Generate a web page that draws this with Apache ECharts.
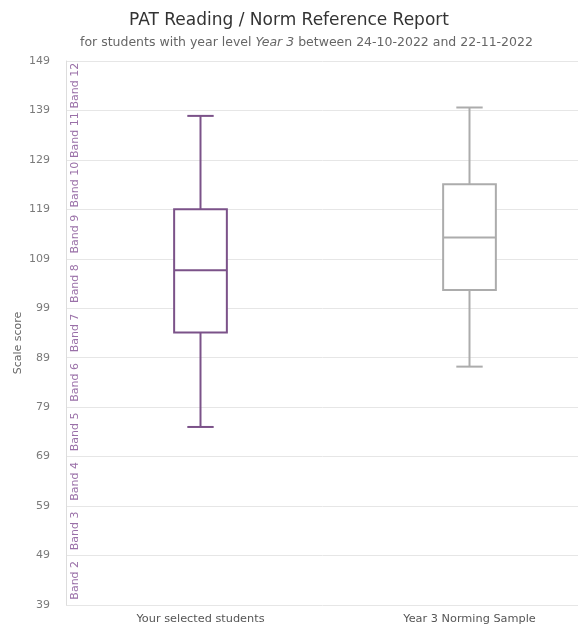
<!DOCTYPE html>
<html>
<head>
<meta charset="utf-8">
<script src="https://cdn.jsdelivr.net/npm/echarts@6/dist/echarts.min.js"></script>
<style>html,body{margin:0;padding:0;background:#fff}#c{width:578px;height:626px}</style>
</head>
<body>
<div id="c"></div>
<script>
const categories = ['Your selected students', 'Year 3 Norming Sample'];
const minValues = [75.0, 87.2];
const q1Values = [94.1, 102.7];
const medianValues = [106.7, 113.3];
const q3Values = [119.0, 124.1];
const maxValues = [137.9, 139.6];
const yTickLabels = [39, 49, 59, 69, 79, 89, 99, 109, 119, 129, 139, 149];
const bandLabels = ['Band 2','Band 3','Band 4','Band 5','Band 6','Band 7','Band 8','Band 9','Band 10','Band 11','Band 12'];
const boxColors = ['#7b5289', '#acacac'];

const chart = echarts.init(document.getElementById('c'), null, {renderer: 'canvas'});
const data = categories.map((c, i) => [i, minValues[i], q1Values[i], medianValues[i], q3Values[i], maxValues[i]]);

chart.setOption({
  animation: false,
  backgroundColor: '#fff',
  title: [{
    left: 'center', top: 7,
    text: 'PAT Reading / Norm Reference Report',
    textStyle: {fontFamily: 'DejaVu Sans', fontSize: 17, fontWeight: 'normal', color: '#333'}
  }, {
    left: 75, top: 21, padding: [5, 5, 5, 5],
    text: '',
    subtext: 'for students with year level {i|Year 3} between 24-10-2022 and 22-11-2022',
    subtextStyle: {fontFamily: 'DejaVu Sans', fontSize: 12.5, color: '#666',
      rich: {i: {fontFamily: 'DejaVu Sans', fontSize: 12.5, fontStyle: 'italic', color: '#666'}}}
  }],
  grid: {left: 66, width: 538, top: 61, bottom: 21, outerBoundsMode: 'none', containLabel: false},
  xAxis: {
    type: 'category', data: categories,
    axisLine: {show: false}, axisTick: {show: false},
    axisLabel: {fontFamily: 'DejaVu Sans', fontSize: 11.3, color: '#555', margin: 9}
  },
  yAxis: [{
    type: 'value', min: 39, max: 149,
    name: 'Scale score', nameLocation: 'middle', nameGap: 42, nameMoveOverlap: false,
    nameTextStyle: {fontFamily: 'DejaVu Sans', fontSize: 11, color: '#666', padding: [0, 20, 0, 0]},
    axisLine: {show: true, lineStyle: {color: '#ddd'}},
    axisTick: {show: false, customValues: yTickLabels},
    axisLabel: {customValues: yTickLabels, fontFamily: 'DejaVu Sans', fontSize: 11, color: '#7a7a7a', margin: 16},
    splitLine: {show: true, lineStyle: {color: '#e6e6e6'}}
  }, {
    type: 'category', data: bandLabels, position: 'left', boundaryGap: true,
    axisLine: {show: false}, axisTick: {show: false}, splitLine: {show: false},
    axisLabel: {inside: true, interval: 0, rotate: 90, margin: 9, align: 'center', verticalAlign: 'middle',
      fontFamily: 'DejaVu Sans', fontSize: 11, color: '#9a70a8'}
  }],
  series: [{
    type: 'custom',
    yAxisIndex: 0,
    data: data,
    encode: {x: 0, y: [1, 2, 3, 4, 5]},
    renderItem: function (params, api) {
      const x = api.value(0);
      const pMin = api.coord([x, api.value(1)]);
      const pQ1 = api.coord([x, api.value(2)]);
      const pMed = api.coord([x, api.value(3)]);
      const pQ3 = api.coord([x, api.value(4)]);
      const pMax = api.coord([x, api.value(5)]);
      const band = api.size([1, 0])[0];
      const hw = band * 0.098;
      const cw = hw / 2;
      const cx = pMed[0];
      const style = {stroke: boxColors[params.dataIndex], lineWidth: 2, fill: null};
      return {
        type: 'group',
        children: [
          {type: 'rect', shape: {x: cx - hw, y: pQ3[1], width: 2 * hw, height: pQ1[1] - pQ3[1]}, style: Object.assign({}, style, {fill: '#fff'})},
          {type: 'line', shape: {x1: cx - hw, y1: pMed[1], x2: cx + hw, y2: pMed[1]}, style: style},
          {type: 'line', shape: {x1: cx, y1: pQ3[1], x2: cx, y2: pMax[1]}, style: style},
          {type: 'line', shape: {x1: cx, y1: pQ1[1], x2: cx, y2: pMin[1]}, style: style},
          {type: 'line', shape: {x1: cx - cw, y1: pMax[1], x2: cx + cw, y2: pMax[1]}, style: style},
          {type: 'line', shape: {x1: cx - cw, y1: pMin[1], x2: cx + cw, y2: pMin[1]}, style: style}
        ]
      };
    }
  }]
});
</script>
</body>
</html>
